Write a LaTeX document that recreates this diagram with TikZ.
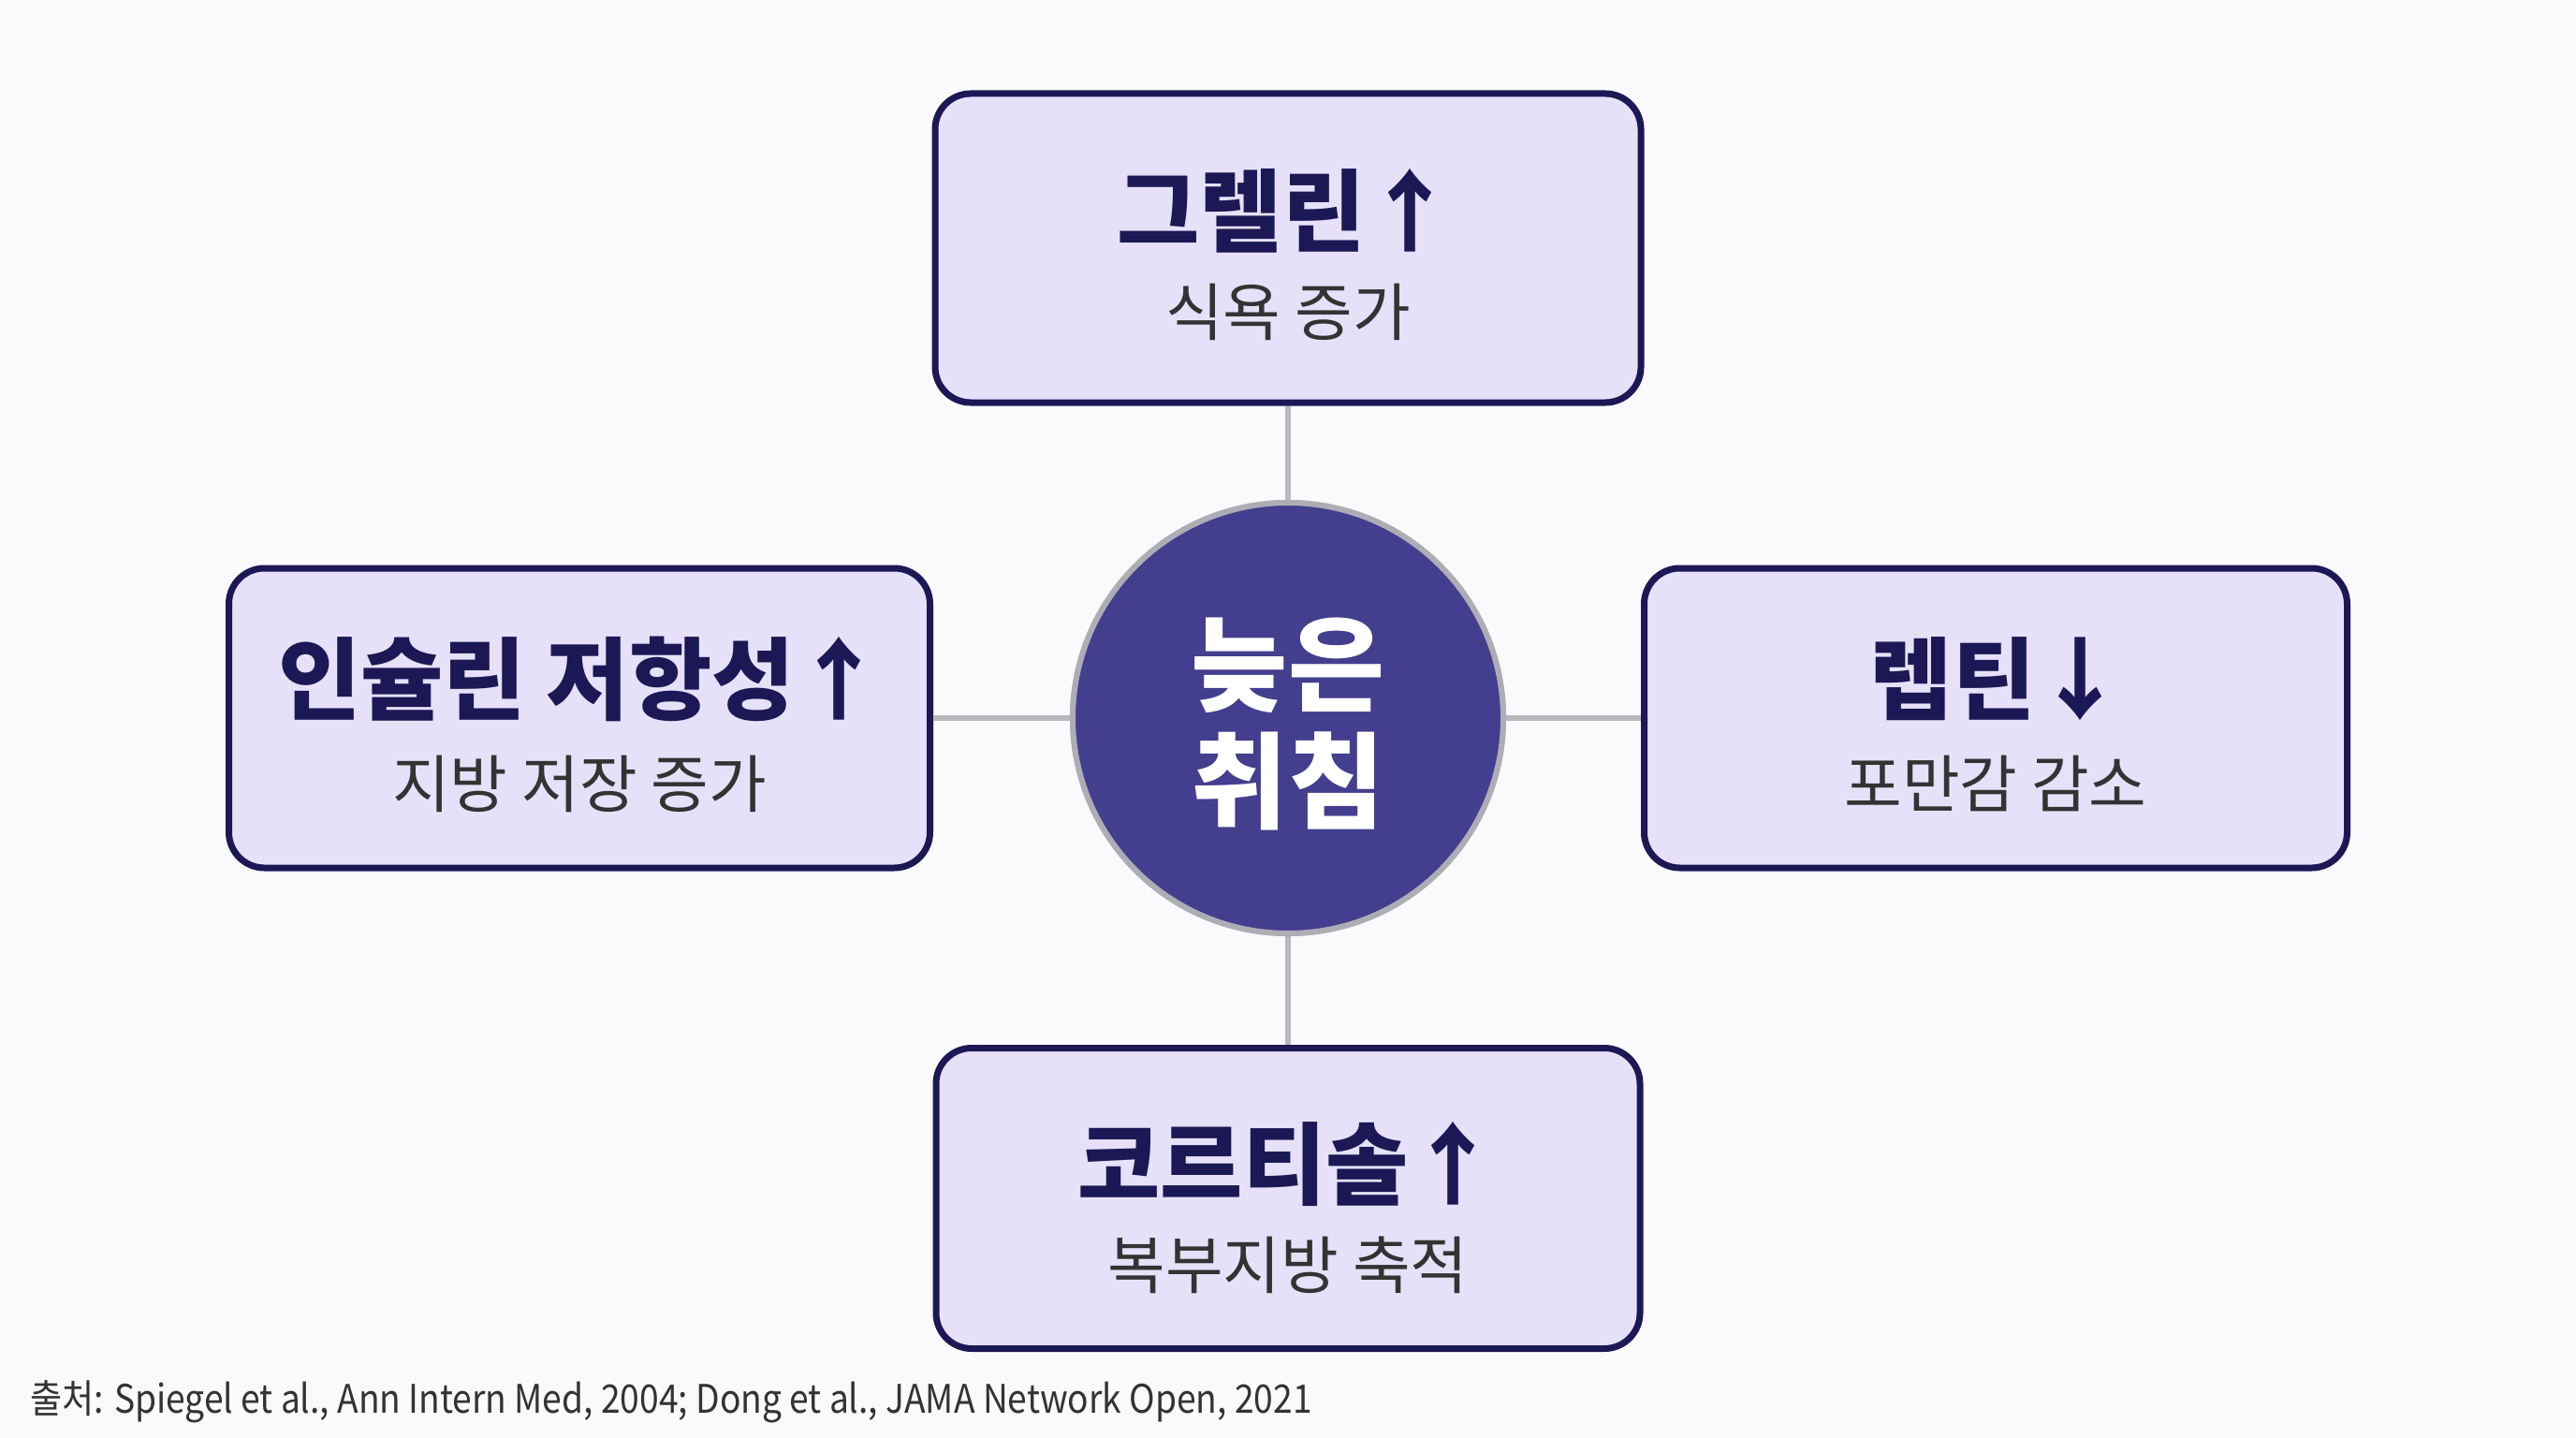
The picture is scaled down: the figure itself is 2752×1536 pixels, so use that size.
\documentclass[tikz,border=0pt]{standalone}
\usepackage{fontspec}
\setmainfont{Noto Sans CJK KR}
\definecolor{bgc}{HTML}{FAFAFC}
\definecolor{boxfill}{HTML}{E6E1F9}
\definecolor{navy}{HTML}{1C1855}
\definecolor{circfill}{HTML}{433E8E}
\definecolor{circline}{HTML}{AEADB5}
\definecolor{conn}{HTML}{B8B8BD}
\definecolor{subc}{HTML}{333333}
\tikzset{
  card/.style={draw=navy, line width=7pt, fill=boxfill, rounded corners=38pt,
    minimum width=#1, inner sep=0pt},
  ttl/.style={text=navy, font=\fontsize{96}{110}\selectfont\bfseries, inner sep=0pt, anchor=center},
  subt/.style={text=subc, font=\fontsize{67}{80}\selectfont, inner sep=0pt, anchor=center},
  link/.style={draw=conn, line width=6pt},
  hubstyle/.style={circle, draw=circline, line width=6pt, fill=circfill, minimum size=460pt, inner sep=0pt},
}
\begin{document}
\begin{tikzpicture}[x=1pt,y=-1pt]
\fill[bgc] (0,0) rectangle (2752,1536);
\useasboundingbox (0,0) rectangle (2752,1536);
% boxes
\node[card=754pt, minimum height=330pt] (top) at (1376,265) {};
\node[card=749pt, minimum height=320pt] (left) at (619,767) {};
\node[card=751pt, minimum height=320pt] (right) at (2132,767) {};
\node[card=752pt, minimum height=321pt] (bot) at (1376,1280) {};
% circle
\node[hubstyle] (hub) at (1376,767) {};
% connectors
\draw[link] (top.south) -- (hub.north);
\draw[link] (left.east) -- (hub.west);
\draw[link] (right.west) -- (hub.east);
\draw[link] (bot.north) -- (hub.south);
% circle again over the connector ends
\node[hubstyle] (hub2) at (1376,767) {};
\node[text=white, font=\fontsize{112}{128}\selectfont\bfseries, inner sep=0pt] (h1) at (1376,711) {늦은};
\node[text=white, font=\fontsize{112}{128}\selectfont\bfseries, inner sep=0pt] (h2) at (1376,834) {취침};
% texts
\node[ttl] (t1) at (1374,225) {그렐린↑};
\node[subt] (s1) at (1376,333) {식욕 증가};
\node[ttl] (t2) at (621,725) {인슐린 저항성↑};
\node[subt] (s2) at (619,837) {지방 저장 증가};
\node[ttl] (t3) at (2134,725) {렙틴↓};
\node[subt] (s3) at (2132,837) {포만감 감소};
\node[ttl] (t4) at (1376,1243) {코르티솔↑};
\node[subt] (s4) at (1376,1351) {복부지방 축적};
% footnote
\node[anchor=west, text=subc, font=\fontsize{42}{50}\selectfont, inner sep=0pt] (fn) at (32,1497) {\scalebox{0.885}[1]{출처: Spiegel et al., Ann Intern Med, 2004; Dong et al., JAMA Network Open, 2021}};
\end{tikzpicture}
\end{document}
